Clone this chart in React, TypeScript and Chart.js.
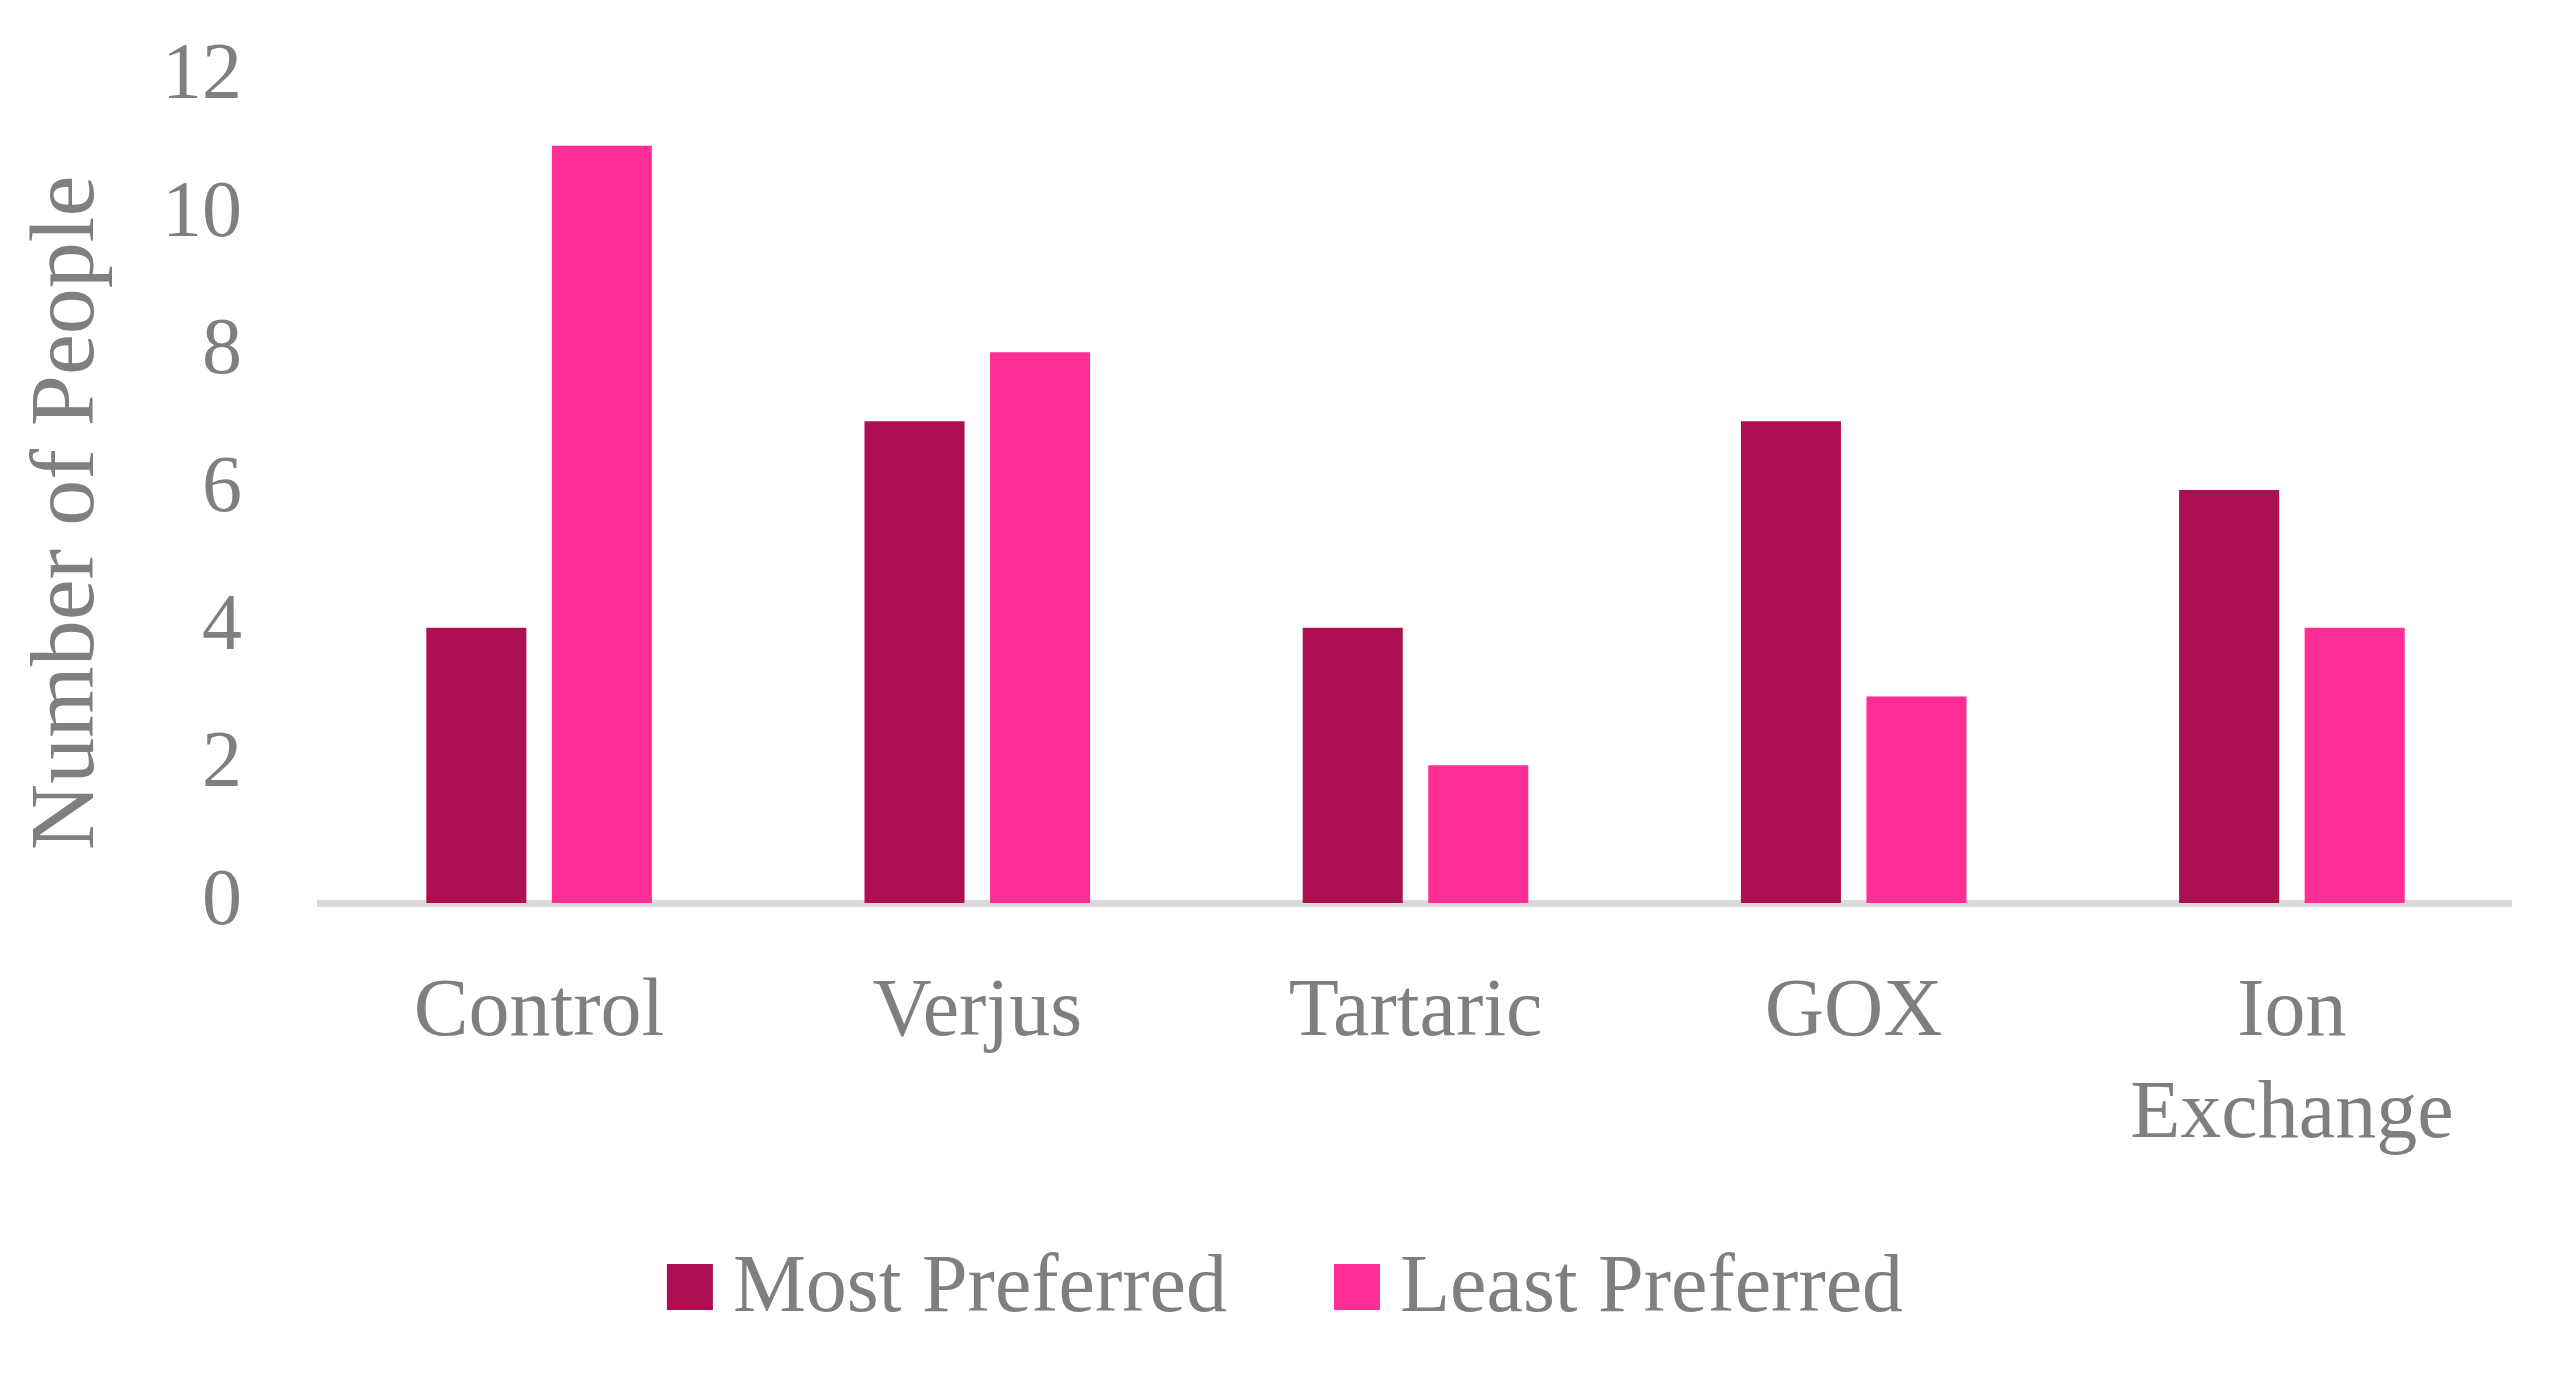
import React, { useEffect, useRef } from 'react';
import { Chart, registerables } from 'chart.js';

Chart.register(...registerables);

const categories: (string | string[])[] = ['Control', 'Verjus', 'Tartaric', 'GOX', ['Ion', 'Exchange']];
const seriesNames = ['Most Preferred', 'Least Preferred'];
const mostPreferred = [4, 7, 4, 7, 6];
const leastPreferred = [11, 8, 2, 3, 4];
const yTickValues = [0, 2, 4, 6, 8, 10, 12];
const seriesColors = ['#AD1052', '#FF2E96'];
const yTitle = 'Number of People';

const FONT = "'Liberation Serif', 'Times New Roman', serif";
const GRAY = '#7F7F7F';
const W = 2570;
const H = 1384;

const legendPlugin = {
  id: 'customLegend',
  afterDraw(chart: any) {
    const ctx = chart.ctx;
    ctx.save();
    ctx.font = `82px ${FONT}`;
    const box = 46;
    const gap = 20;
    const spacing = 107;
    const items = chart.data.datasets.map((d: any) => ({
      label: d.label,
      color: d.backgroundColor,
      w: ctx.measureText(d.label).width,
    }));
    const total = items.reduce((s: number, it: any, i: number) => s + box + gap + it.w + (i ? spacing : 0), 0);
    let x = chart.width / 2 - total / 2;
    const cy = chart.height - 97;
    ctx.textBaseline = 'middle';
    ctx.textAlign = 'left';
    items.forEach((it: any, i: number) => {
      if (i) x += spacing;
      ctx.fillStyle = it.color;
      ctx.fillRect(x, cy - box / 2, box, box);
      x += box + gap;
      ctx.fillStyle = GRAY;
      ctx.fillText(it.label, x, cy + 2);
      x += it.w;
    });
    ctx.restore();
  },
};

export default function App() {
  const ref = useRef<HTMLCanvasElement | null>(null);

  useEffect(() => {
    document.body.style.margin = '0';
    const canvas = ref.current;
    if (!canvas) return;
    const chart = new Chart(canvas, {
      type: 'bar',
      data: {
        labels: categories as any,
        datasets: [
          {
            label: seriesNames[0],
            data: mostPreferred,
            backgroundColor: seriesColors[0],
            categoryPercentage: 0.573,
            barPercentage: 0.797,
          },
          {
            label: seriesNames[1],
            data: leastPreferred,
            backgroundColor: seriesColors[1],
            categoryPercentage: 0.573,
            barPercentage: 0.797,
          },
        ],
      },
      options: {
        responsive: false,
        animation: false,
        devicePixelRatio: 1,
        layout: { padding: { left: 0, right: 59, top: 77, bottom: 0 } },
        plugins: {
          legend: { display: false },
          tooltip: { enabled: false },
          title: { display: false },
        },
        scales: {
          x: {
            grid: { display: false, drawTicks: false },
            border: { display: true, color: '#D9D9D9', width: 7 },
            ticks: {
              color: GRAY,
              font: { family: FONT, size: 82, lineHeight: 1.25 },
              padding: 59,
              maxRotation: 0,
              autoSkip: false,
            },
            afterFit: (scale: any) => {
              scale.height = 481;
              scale.paddingLeft = 0;
              scale.paddingRight = 0;
            },
          },
          y: {
            min: 0,
            max: 12,
            grid: { display: false, drawTicks: false },
            border: { display: false },
            afterBuildTicks: (scale: any) => {
              scale.ticks = yTickValues.map((v) => ({ value: v }));
            },
            ticks: {
              color: GRAY,
              font: { family: FONT, size: 80 },
              padding: 78,
            },
            title: {
              display: true,
              text: yTitle + '\u2002',
              color: GRAY,
              font: { family: FONT, size: 92, lineHeight: 1.2 },
              padding: { top: 14, bottom: 0 },
            },
            afterFit: (scale: any) => {
              scale.width = 320;
              scale.paddingTop = 0;
              scale.paddingBottom = 0;
            },
          },
        },
      },
      plugins: [legendPlugin],
    });
    return () => chart.destroy();
  }, []);

  return <canvas ref={ref} width={W} height={H} style={{ display: 'block', width: W, height: H }} />;
}
